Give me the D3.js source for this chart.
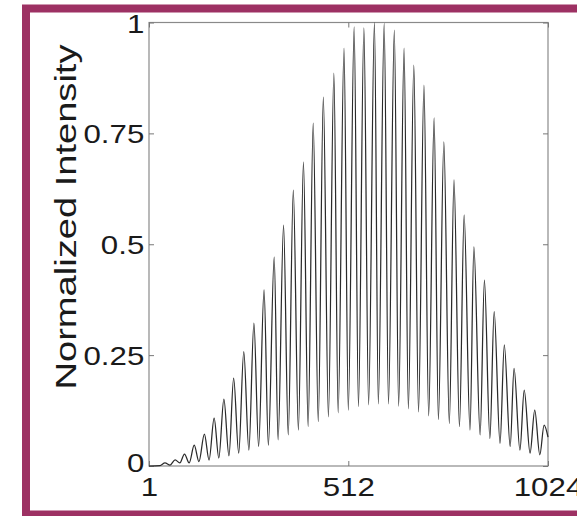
<!DOCTYPE html>
<html>
<head>
<meta charset="utf-8">
<script src="https://cdn.jsdelivr.net/npm/d3@7"></script>
<style>
  body { margin: 0; background: #fff; }
  svg { display: block; }
</style>
</head>
<body>
<div id="chart"></div>
<script>
// fringe maxima and minima: [pixel index, normalized intensity]
const startPoints = [[1, 0], [29, 0.001]];
const peaks = [
  [42, 0.007], [68, 0.014], [92, 0.027], [117, 0.047], [143, 0.072], [168, 0.108],
  [193, 0.151], [218, 0.198], [244, 0.258], [270, 0.322], [296, 0.397], [322, 0.471],
  [346, 0.543], [371, 0.622], [397, 0.685], [422, 0.773], [448, 0.832], [475, 0.886],
  [501, 0.942], [527, 0.99], [552, 0.988], [579, 1.0], [604, 0.998], [630, 0.983],
  [655, 0.942], [680, 0.904], [706, 0.859], [732, 0.785], [757, 0.731], [783, 0.645],
  [809, 0.566], [834, 0.494], [861, 0.419], [886, 0.348], [912, 0.273], [937, 0.22],
  [963, 0.171], [990, 0.126], [1014, 0.092]
];
const troughs = [
  [55, 0.002], [80, 0.007], [104, 0.007], [129, 0.01], [155, 0.0135], [180, 0.018],
  [206, 0.023], [231, 0.029], [257, 0.036], [282, 0.044], [307, 0.047], [332, 0.059],
  [358, 0.07], [384, 0.081], [409, 0.089], [435, 0.1], [461, 0.111], [486, 0.12],
  [512, 0.126], [538, 0.134], [564, 0.138], [589, 0.14], [615, 0.14], [641, 0.135],
  [666, 0.129], [692, 0.122], [718, 0.113], [743, 0.105], [771, 0.096], [797, 0.089],
  [824, 0.081], [850, 0.07], [875, 0.062], [901, 0.051], [927, 0.044], [952, 0.036],
  [978, 0.029], [1003, 0.025]
];
const endPoints = [[1024, 0.065]];

const xTicks = [1, 512, 1024];
const xTickLabels = ["1", "512", "1024"];
const yTicks = [0, 0.25, 0.5, 0.75, 1];
const yTickLabels = ["0", "0.25", "0.5", "0.75", "1"];
const yTitle = "Normalized Intensity";

const W = 577, H = 516;
const margin = { top: 22.5, left: 149 },
  width = 399,
  height = 443.5;

const svg = d3.select("#chart")
  .append("svg")
  .attr("width", W)
  .attr("height", H);

// maroon frame around the figure
svg.append("rect")
  .attr("x", 26)
  .attr("y", 8.5)
  .attr("width", 620)
  .attr("height", 506)
  .attr("fill", "#fff")
  .attr("stroke", "#9d3163")
  .attr("stroke-width", 8);

const g = svg.append("g")
  .attr("transform", "translate(" + margin.left + "," + margin.top + ")");

const x = d3.scaleLinear().domain([1, 1024]).range([0, width]);
const y = d3.scaleLinear().domain([0, 1]).range([height, 0]);

const fontFam = "'Liberation Sans', Arial, Helvetica, sans-serif";

// box
g.append("rect")
  .attr("width", width)
  .attr("height", height)
  .attr("fill", "none")
  .attr("stroke", "#8a8a8a")
  .attr("stroke-width", 1.2);

// inward ticks on all four sides
g.append("g")
  .attr("transform", "translate(0," + height + ")")
  .call(d3.axisBottom(x).tickValues(xTicks).tickSizeInner(-5).tickSizeOuter(0)
    .tickFormat((d, i) => xTickLabels[i]).tickPadding(9))
  .call(a => a.select(".domain").remove())
  .call(a => a.selectAll("line").attr("stroke", "#777"))
  .call(a => a.selectAll("text")
    .attr("font-family", fontFam)
    .attr("font-size", 26.5)
    .attr("fill", "#1a1a1a")
    .attr("dy", "0.78em")
    .attr("transform", "scale(1.18,1)"));

g.append("g")
  .call(d3.axisTop(x).tickValues(xTicks).tickSizeInner(-5).tickSizeOuter(0).tickFormat(""))
  .call(a => a.select(".domain").remove())
  .call(a => a.selectAll("line").attr("stroke", "#777"));

g.append("g")
  .call(d3.axisLeft(y).tickValues(yTicks).tickSizeInner(-5).tickSizeOuter(0)
    .tickFormat((d, i) => yTickLabels[i]).tickPadding(4))
  .call(a => a.select(".domain").remove())
  .call(a => a.selectAll("line").attr("stroke", "#777"))
  .call(a => a.selectAll("text")
    .attr("font-family", fontFam)
    .attr("font-size", 26.5)
    .attr("fill", "#1a1a1a")
    .attr("dy", d => d === 0 ? "0.2em" : "0.36em")
    .attr("transform", "scale(1.18,1)"));

g.append("g")
  .attr("transform", "translate(" + width + ",0)")
  .call(d3.axisRight(y).tickValues(yTicks).tickSizeInner(-5).tickSizeOuter(0).tickFormat(""))
  .call(a => a.select(".domain").remove())
  .call(a => a.selectAll("line").attr("stroke", "#777"));

// y title
svg.append("text")
  .attr("transform", "translate(76,217) rotate(-90)")
  .attr("text-anchor", "middle")
  .attr("font-family", fontFam)
  .attr("font-size", 29)
  .attr("fill", "#1a1a1a")
  .attr("textLength", 345)
  .attr("lengthAdjust", "spacingAndGlyphs")
  .text(yTitle);

// intensity trace through the read extrema
const pts = startPoints.concat(peaks, troughs, endPoints).sort((a, b) => a[0] - b[0]);

const line = d3.line()
  .x(d => x(d[0]))
  .y(d => y(d[1]))
  .curve(d3.curveMonotoneX);

g.append("path")
  .datum(pts)
  .attr("fill", "none")
  .attr("stroke", "#2a2a2a")
  .attr("stroke-width", 1.25)
  .attr("d", line);
</script>
</body>
</html>
